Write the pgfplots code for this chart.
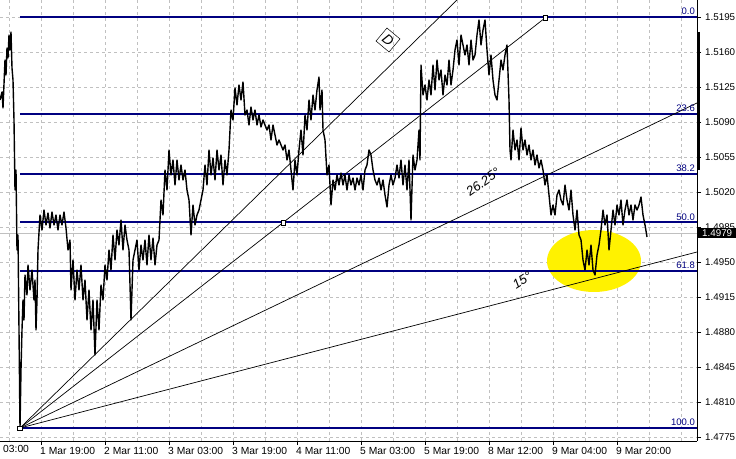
\documentclass[border=0pt]{standalone}
\usepackage{pgfplots}
\pgfplotsset{compat=1.18}
\usepackage{fontspec}
\setmainfont{Liberation Sans}
\definecolor{navy}{RGB}{0,0,128}
\definecolor{gridgray}{RGB}{192,192,192}
\begin{document}
\begin{tikzpicture}[x=1pt,y=1pt]
\fill[white] (0,0) rectangle (736pt,458pt);
\begin{axis}[
  at={(0pt,17pt)}, anchor=south west,
  scale only axis, width=697pt, height=441pt,
  xmin=0, xmax=697, ymin=1.4771, ymax=1.5212,
  axis x line=bottom, axis y line=right,
  axis line style={-, black, line width=0.8pt},
  clip mode=individual,
  tick align=outside, major tick length=4pt, minor tick length=0pt,
  tick style={black, line width=0.8pt},
  xtick={41,105,169,233,297,361,425,489,553,617},
  xticklabels={1 Mar 19:00,2 Mar 11:00,3 Mar 03:00,3 Mar 19:00,4 Mar 11:00,5 Mar 03:00,5 Mar 19:00,8 Mar 12:00,9 Mar 04:00,9 Mar 20:00},
  minor xtick={9,73,137,201,265,329,393,457,521,585,649,681},
  ytick={1.4775,1.4810,1.4845,1.4880,1.4915,1.4950,1.4985,1.5020,1.5055,1.5090,1.5125,1.5160,1.5195},
  yticklabels={1.4775,1.4810,1.4845,1.4880,1.4915,1.4950,1.4985,1.5020,1.5055,1.5090,1.5125,1.5160,1.5195},
  xticklabel style={anchor=north west, inner sep=0pt, xshift=-1pt, yshift=-2pt, font=\fontsize{10.3}{12}\selectfont},
  yticklabel style={anchor=west, inner sep=0pt, xshift=4pt, font=\fontsize{9.8}{12}\selectfont},
  grid=both,
  major grid style={gridgray, dash pattern=on 3pt off 3pt, line width=0.8pt},
  minor grid style={gridgray, dash pattern=on 3pt off 3pt, line width=0.8pt},
]
% current price line
\addplot[gridgray, line width=0.8pt] coordinates {(0,1.4979) (697,1.4979)};
% yellow highlight
\fill[yellow] (axis cs:594,1.4951) ellipse [x radius=47pt, y radius=31pt];
% Fibonacci levels
\addplot[navy, line width=2pt] coordinates {(20,1.5195) (697,1.5195)};
\addplot[navy, line width=2pt] coordinates {(20,1.5098) (697,1.5098)};
\addplot[navy, line width=2pt] coordinates {(20,1.5038) (697,1.5038)};
\addplot[navy, line width=2pt] coordinates {(20,1.49895) (697,1.49895)};
\addplot[navy, line width=2pt] coordinates {(20,1.4941) (697,1.4941)};
\addplot[navy, line width=2pt] coordinates {(20,1.4784) (697,1.4784)};
% Gann fan
\addplot[black, line width=0.7pt] coordinates {(20,1.4784) (457,1.5212)};
\addplot[black, line width=0.7pt] coordinates {(20,1.4784) (545,1.5194)};
\addplot[black, line width=0.7pt] coordinates {(20,1.4784) (697,1.5109)};
\addplot[black, line width=0.7pt] coordinates {(20,1.4784) (697,1.4960)};
% price
\addplot[black, line width=1.4pt, line join=round] table[row sep=\\] {
x y\\
0 1.5112\\ 2 1.5120\\ 3 1.5104\\ 5 1.5152\\ 6 1.5137\\ 7 1.5164\\ 8 1.5154\\ 9 1.5177\\ 10 1.5162\\ 11 1.5180\\
12 1.5144\\ 13 1.5132\\ 14 1.5092\\ 15 1.5022\\ 16 1.5042\\ 17 1.4962\\ 18 1.4977\\ 19 1.4882\\ 20 1.4784\\ 21 1.4842\\
22 1.4882\\ 23 1.4912\\ 24 1.4892\\ 25 1.4937\\ 27 1.4917\\ 28 1.4947\\ 30 1.4922\\ 32 1.4942\\ 34 1.4912\\ 35 1.4932\\
36 1.4882\\ 37 1.4912\\ 38 1.4962\\ 40 1.4997\\ 42 1.4982\\ 44 1.5002\\ 46 1.4987\\ 48 1.4999\\ 50 1.4984\\ 52 1.5000\\
54 1.4987\\ 56 1.4997\\ 58 1.4982\\ 60 1.4997\\ 62 1.4987\\ 64 1.5000\\ 66 1.4984\\ 68 1.4962\\ 70 1.4972\\ 71 1.4922\\
73 1.4952\\ 75 1.4912\\ 77 1.4942\\ 79 1.4922\\ 81 1.4947\\ 83 1.4912\\ 85 1.4932\\ 87 1.4892\\ 89 1.4922\\ 91 1.4882\\
93 1.4912\\ 95 1.4857\\ 97 1.4912\\ 99 1.4882\\ 101 1.4927\\ 103 1.4912\\ 105 1.4947\\ 107 1.4932\\ 109 1.4962\\ 111 1.4942\\
113 1.4977\\ 115 1.4952\\ 117 1.4982\\ 119 1.4967\\ 121 1.4992\\ 123 1.4962\\ 125 1.4987\\ 127 1.4972\\ 129 1.4962\\ 131 1.4892\\
133 1.4952\\ 135 1.4962\\ 137 1.4972\\ 139 1.4942\\ 141 1.4967\\ 143 1.4952\\ 145 1.4972\\ 147 1.4947\\ 149 1.4977\\ 151 1.4952\\
153 1.4974\\ 155 1.4947\\ 157 1.4967\\ 159 1.4972\\ 161 1.5012\\ 163 1.4997\\ 165 1.5042\\ 167 1.5022\\ 169 1.5062\\ 171 1.5037\\
173 1.5052\\ 175 1.5027\\ 177 1.5052\\ 179 1.5032\\ 181 1.5047\\ 183 1.5032\\ 185 1.5042\\ 187 1.5022\\ 189 1.5012\\ 191 1.4977\\
193 1.5007\\ 195 1.4987\\ 197 1.4997\\ 199 1.5002\\ 201 1.5012\\ 203 1.5022\\ 205 1.5047\\ 207 1.5027\\ 209 1.5062\\ 211 1.5037\\
213 1.5054\\ 215 1.5032\\ 217 1.5062\\ 219 1.5042\\ 221 1.5057\\ 223 1.5027\\ 225 1.5052\\ 227 1.5037\\ 229 1.5062\\ 231 1.5102\\
233 1.5092\\ 235 1.5124\\ 237 1.5107\\ 239 1.5127\\ 241 1.5112\\ 243 1.5130\\ 245 1.5097\\ 247 1.5102\\ 249 1.5087\\ 251 1.5105\\
253 1.5092\\ 255 1.5102\\ 257 1.5087\\ 259 1.5097\\ 261 1.5085\\ 263 1.5092\\ 265 1.5087\\ 267 1.5082\\ 269 1.5087\\ 271 1.5072\\
273 1.5087\\ 275 1.5077\\ 277 1.5067\\ 279 1.5072\\ 281 1.5067\\ 283 1.5062\\ 285 1.5067\\ 287 1.5052\\ 289 1.5062\\ 291 1.5042\\
293 1.5022\\ 295 1.5052\\ 297 1.5037\\ 299 1.5062\\ 301 1.5082\\ 303 1.5057\\ 305 1.5097\\ 307 1.5082\\ 309 1.5112\\ 311 1.5092\\
313 1.5117\\ 315 1.5102\\ 317 1.5122\\ 319 1.5135\\ 320 1.5102\\ 322 1.5122\\ 323 1.5082\\ 325 1.5072\\ 327 1.5037\\ 329 1.5047\\
331 1.5007\\ 333 1.5032\\ 335 1.5022\\ 337 1.5037\\ 339 1.5027\\ 341 1.5039\\ 343 1.5027\\ 345 1.5037\\ 347 1.5022\\ 349 1.5037\\
351 1.5027\\ 353 1.5034\\ 355 1.5022\\ 357 1.5034\\ 359 1.5027\\ 361 1.5037\\ 363 1.5022\\ 365 1.5042\\ 367 1.5047\\ 369 1.5062\\
371 1.5057\\ 373 1.5042\\ 375 1.5032\\ 377 1.5027\\ 379 1.5034\\ 381 1.5022\\ 383 1.5032\\ 385 1.5017\\ 387 1.5005\\ 389 1.5027\\
391 1.5037\\ 393 1.5027\\ 395 1.5034\\ 397 1.5047\\ 399 1.5034\\ 401 1.5052\\ 403 1.5027\\ 405 1.5047\\ 407 1.5022\\ 409 1.5052\\
411 1.4992\\ 413 1.5057\\ 415 1.5042\\ 417 1.5052\\ 419 1.5082\\ 420 1.5052\\ 421 1.5147\\ 423 1.5117\\ 425 1.5127\\ 427 1.5112\\
429 1.5132\\ 431 1.5117\\ 433 1.5147\\ 435 1.5122\\ 437 1.5152\\ 439 1.5132\\ 441 1.5142\\ 443 1.5117\\ 445 1.5137\\ 447 1.5127\\
449 1.5152\\ 451 1.5127\\ 453 1.5142\\ 455 1.5162\\ 457 1.5172\\ 459 1.5147\\ 461 1.5177\\ 463 1.5167\\ 465 1.5157\\ 467 1.5167\\
469 1.5147\\ 471 1.5172\\ 473 1.5152\\ 475 1.5157\\ 477 1.5177\\ 479 1.5192\\ 481 1.5167\\ 483 1.5182\\ 485 1.5192\\ 487 1.5162\\
489 1.5137\\ 491 1.5157\\ 493 1.5132\\ 495 1.5117\\ 497 1.5112\\ 499 1.5132\\ 501 1.5152\\ 503 1.5142\\ 505 1.5157\\ 507 1.5167\\
509 1.5112\\ 510 1.5062\\ 511 1.5052\\ 513 1.5082\\ 515 1.5062\\ 517 1.5072\\ 519 1.5052\\ 521 1.5084\\ 523 1.5062\\ 525 1.5072\\
527 1.5057\\ 529 1.5067\\ 531 1.5052\\ 533 1.5062\\ 535 1.5047\\ 537 1.5057\\ 539 1.5044\\ 541 1.5052\\ 543 1.5042\\ 545 1.5027\\
547 1.5037\\ 549 1.5017\\ 551 1.4997\\ 553 1.5007\\ 555 1.4997\\ 557 1.5017\\ 559 1.5022\\ 561 1.5012\\ 563 1.5007\\ 565 1.5027\\
567 1.5012\\ 569 1.5002\\ 571 1.5022\\ 573 1.4997\\ 575 1.4982\\ 577 1.5002\\ 579 1.4977\\ 581 1.4972\\ 583 1.4952\\ 585 1.4942\\
587 1.4962\\ 589 1.4947\\ 591 1.4967\\ 593 1.4942\\ 595 1.4937\\ 597 1.4957\\ 599 1.4967\\ 601 1.4982\\ 603 1.5002\\ 605 1.4987\\
607 1.4997\\ 609 1.4962\\ 611 1.4982\\ 613 1.5002\\ 615 1.4987\\ 617 1.5007\\ 619 1.4997\\ 621 1.5012\\ 623 1.4987\\ 625 1.5002\\
627 1.5012\\ 629 1.4997\\ 631 1.5007\\ 633 1.4992\\ 635 1.5007\\ 637 1.5002\\ 639 1.5007\\ 641 1.5015\\ 643 1.4997\\ 645 1.4987\\
647 1.4975\\
};
% anchor squares
\addplot[only marks, mark=square*, mark size=2.2pt, mark options={fill=white, draw=black, line width=0.6pt}] coordinates {(20,1.4784) (545,1.5194) (283,1.4989)};
% fib labels
\begin{scope}[every node/.style={anchor=south east, inner sep=0pt, text=navy, font=\fontsize{9.5}{10}\selectfont, yshift=2pt}]
\node at (axis cs:695,1.5195) {0.0};
\node at (axis cs:695,1.5098) {23.6};
\node at (axis cs:695,1.5038) {38.2};
\node at (axis cs:695,1.49895) {50.0};
\node at (axis cs:695,1.4941) {61.8};
\node at (axis cs:695,1.4784) {100.0};
\end{scope}
% annotations
\node[draw, line width=0.5pt, rotate=-40, minimum size=17pt, inner sep=0pt, font=\fontsize{14}{14}\selectfont\itshape] at (axis cs:388,1.5172) {D};
\node[rotate=35, inner sep=0pt, font=\fontsize{13}{14}\selectfont\itshape] at (axis cs:483,1.5030) {26.25°};
\node[rotate=32, inner sep=0pt, font=\fontsize{13}{14}\selectfont\itshape] at (axis cs:522,1.4932) {15°};
\coordinate (cp) at (axis cs:698,1.4979);
% side marker
\draw[black, line width=3pt] (axis cs:698,1.5180) -- (axis cs:698,1.5042);
\end{axis}
% current price label (drawn on top of the tick labels)
\node[fill=black, text=white, anchor=west, inner sep=1.2pt, minimum width=38pt, align=center, font=\fontsize{9.8}{12}\selectfont] at (cp) {1.4979};
\node[anchor=north west, inner sep=0pt, font=\fontsize{10.3}{12}\selectfont] at (3pt,13pt) {03:00};
\pgfresetboundingbox
\path (0,0) rectangle (736pt,458pt);
\end{tikzpicture}
\end{document}
